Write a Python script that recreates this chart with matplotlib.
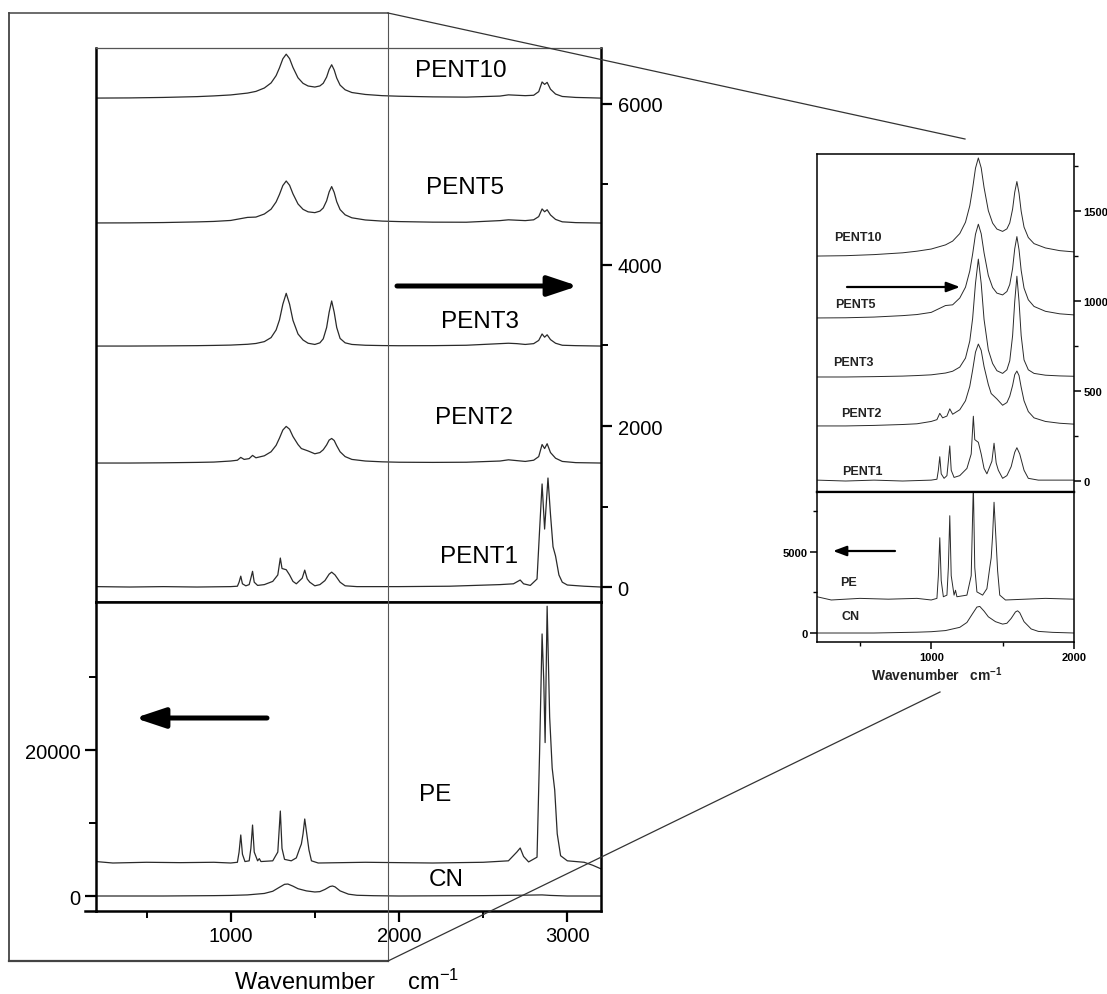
import matplotlib.pyplot as plt

plt.rcParams['font.family'] = ['Liberation Sans', 'DejaVu Sans']
plt.rcParams['mathtext.default'] = 'regular'

W, H = 1107, 995

# spectra (wavenumber, intensity above the sample's own baseline)
wn_broad = [200, 400, 600, 800, 900, 1000, 1100, 1150, 1200, 1240, 1270, 1290, 1310, 1330, 1350, 1370,
            1400, 1430, 1460, 1500, 1530, 1550, 1570, 1585, 1600, 1615, 1630, 1650, 1680, 1720, 1800,
            1900, 2000, 2200, 2400, 2600, 2650, 2700, 2750, 2800, 2830, 2850, 2865, 2880, 2900, 2930,
            2970, 3050, 3200]
pent10_y = [0, 2, 8, 18, 27, 39, 62, 83, 125, 188, 279, 376, 488, 545, 490, 381, 252, 183, 150, 137,
            151, 184, 261, 355, 414, 349, 249, 161, 103, 69, 45, 30, 23, 15, 12, 25, 40, 35, 30, 35,
            80, 200, 170, 195, 110, 50, 20, 8, 0]
pent5_y = [1, 2, 6, 14, 20, 32, 70, 74, 112, 172, 262, 356, 466, 522, 469, 363, 237, 170, 139, 129,
           148, 187, 276, 386, 453, 380, 265, 167, 102, 65, 38, 24, 18, 11, 10, 30, 40, 35, 30, 40,
           80, 175, 140, 165, 100, 45, 15, 5, 0]
pent3_y = [0, 0, 2, 5, 8, 12, 22, 32, 55, 105, 200, 325, 520, 655, 520, 320, 150, 75, 35, 20,
           40, 90, 230, 420, 560, 420, 230, 95, 40, 20, 10, 6, 4, 5, 10, 30, 35, 30, 20, 30,
           70, 150, 110, 140, 80, 35, 10, 5, 0]

pent2_x = [200, 400, 600, 800, 900, 1000, 1040, 1060, 1080, 1110, 1130, 1150, 1200, 1240, 1270, 1290,
           1310, 1330, 1350, 1370, 1400, 1420, 1440, 1460, 1500, 1530, 1550, 1570, 1585, 1600, 1615,
           1630, 1650, 1680, 1720, 1800, 1900, 2000, 2200, 2400, 2600, 2650, 2700, 2750, 2800, 2830,
           2850, 2865, 2880, 2900, 2930, 2970, 3050, 3200]
pent2_y = [0, 0, 3, 8, 12, 25, 35, 70, 45, 55, 95, 65, 90, 140, 220, 310,
           410, 455, 420, 330, 230, 180, 165, 150, 115, 130, 165, 225, 285, 305, 280,
           215, 140, 80, 45, 25, 15, 10, 8, 10, 25, 40, 30, 20, 35, 80,
           230, 180, 240, 130, 60, 20, 5, 0]

pent1_x = [200, 400, 600, 800, 1000, 1040, 1050, 1060, 1070, 1090, 1110, 1120, 1130, 1140, 1160, 1200,
           1250, 1280, 1295, 1305, 1330, 1350, 1370, 1390, 1410, 1425, 1440, 1455, 1470, 1500, 1530,
           1560, 1585, 1600, 1620, 1650, 1680, 1750, 2000, 2300, 2600, 2680, 2720, 2740, 2780, 2820,
           2835, 2850, 2865, 2885, 2900, 2915, 2930, 2950, 2970, 3000, 3100, 3200]
pent1_y = [5, 0, 5, 0, 5, 10, 60, 135, 40, 15, 30, 110, 195, 60, 20, 30,
           70, 150, 360, 230, 215, 150, 70, 40, 80, 110, 210, 100, 60, 15, 30,
           80, 160, 185, 150, 60, 15, 5, 5, 10, 30, 40, 87, 40, 20, 100,
           700, 1280, 720, 1354, 900, 500, 385, 150, 60, 25, 10, 0]

pe_x = [200, 300, 500, 700, 900, 1000, 1040, 1050, 1060, 1070, 1085, 1110, 1120, 1130, 1140, 1160,
        1170, 1180, 1250, 1280, 1295, 1305, 1320, 1360, 1390, 1410, 1420, 1430, 1440, 1455, 1465,
        1480, 1520, 1800, 2200, 2500, 2650, 2700, 2720, 2740, 2770, 2820, 2835, 2850, 2860, 2868,
        2880, 2895, 2910, 2925, 2940, 2960, 3000, 3100, 3150, 3200]
pe_y = [200, 0, 100, 50, 100, 0, 100, 1500, 3840, 1200, 200, 300, 2000, 5200, 1500, 300,
        600, 200, 300, 1500, 7120, 2000, 500, 300, 700, 2000, 2600, 4000, 6030, 3500, 1800,
        300, 0, 100, 0, 100, 300, 1500, 2055, 900, 150, 800, 15000, 31380, 25000, 16500,
        35180, 20000, 13000, 10000, 4000, 1000, 300, 100, -300, -800]

cn_x = [200, 600, 900, 1000, 1100, 1200, 1250, 1290, 1320, 1340, 1370, 1400, 1450, 1500, 1530,
        1560, 1590, 1605, 1620, 1650, 1700, 1750, 1850, 2000, 2500, 2700, 2850, 2900, 3000, 3200]
cn_y = [0, 0, 50, 80, 150, 350, 650, 1200, 1600, 1640, 1350, 1000, 700, 550, 600,
        900, 1300, 1370, 1250, 700, 250, 100, 40, 0, 50, 100, 150, 80, 0, 0]

top_names = ['PENT10', 'PENT5', 'PENT3', 'PENT2', 'PENT1']
top_x = [wn_broad, wn_broad, wn_broad, pent2_x, pent1_x]
top_y = [pent10_y, pent5_y, pent3_y, pent2_y, pent1_y]
main_offsets = [6073, 4521, 2993, 1540, 0]
inset_offsets = [1250, 905, 578, 306, 0]
bot_names = ['PE', 'CN']
bot_x = [pe_x, cn_x]
bot_y = [pe_y, cn_y]
main_bot_offsets = [4520, 0]
inset_bot_offsets = [2037, 0]

# label positions (data coords)
main_lab_x = [2365, 2395, 2484, 2448, 2478]
main_lab_y = [6421, 4968, 3304, 2111, 385]
main_bot_lab_x = [2217, 2282]
main_bot_lab_y = [13970, 2330]
inset_lab_x = [483, 469, 455, 510, 517]
inset_lab_y = [1356, 983, 661, 378, 56]
inset_bot_lab_x = [420, 434]
inset_bot_lab_y = [3147, 1049]

line_col = '#2a2a2a'

fig = plt.figure(figsize=(W / 100, H / 100), dpi=100)


def box(x0, y0, x1, y1):
    return fig.add_axes([x0 / W, 1 - y1 / H, (x1 - x0) / W, (y1 - y0) / H])


ax1 = box(96, 49, 601, 603)
ax2 = box(96, 603, 601, 912)
ax3 = box(817, 155, 1074, 493)
ax4 = box(817, 493, 1074, 643)

# ---- main plot, top panel
for xs, ys, off in zip(top_x, top_y, main_offsets):
    ax1.plot(xs, [v + off for v in ys], color=line_col, lw=0.9)
for name, tx, ty in zip(top_names, main_lab_x, main_lab_y):
    ax1.text(tx, ty, name, ha='center', va='center', fontsize=17.5)
ax1.set_xlim(200, 3200)
ax1.set_ylim(-186, 6695)
ax1.yaxis.tick_right()
ax1.set_yticks([0, 2000, 4000, 6000])
ax1.set_yticks([1000, 3000, 5000], minor=True)
ax1.tick_params(axis='y', which='major', direction='out', length=8, width=1.6, labelsize=14.5, pad=4)
ax1.tick_params(axis='y', which='minor', direction='out', length=5, width=1.4)
ax1.tick_params(axis='x', which='both', bottom=False, labelbottom=False)

# ---- main plot, bottom panel
for xs, ys, off in zip(bot_x, bot_y, main_bot_offsets):
    ax2.plot(xs, [v + off for v in ys], color=line_col, lw=0.9)
for name, tx, ty in zip(bot_names, main_bot_lab_x, main_bot_lab_y):
    ax2.text(tx, ty, name, ha='center', va='center', fontsize=17.5)
ax2.set_xlim(200, 3200)
ax2.set_ylim(-2055, 40280)
ax2.set_yticks([0, 20000])
ax2.set_yticks([10000, 30000], minor=True)
ax2.set_xticks([1000, 2000, 3000])
ax2.set_xticks([500, 1500, 2500], minor=True)
ax2.tick_params(which='major', direction='out', length=8, width=1.6, labelsize=14.5, pad=3)
ax2.tick_params(which='minor', direction='out', length=5, width=1.4)

for ax in (ax1, ax2):
    for s in ax.spines.values():
        s.set_linewidth(1.8)
ax1.spines['top'].set_linewidth(0.9)
ax1.spines['top'].set_color('#555555')

fig.text(347 / W, 1 - 982 / H, 'Wavenumber     cm$^{-1}$', ha='center', va='center', fontsize=17)

# ---- inset, top panel
for xs, ys, off in zip(top_x, top_y, inset_offsets):
    ax3.plot(xs, [v + off for v in ys], color=line_col, lw=0.7)
for name, tx, ty in zip(top_names, inset_lab_x, inset_lab_y):
    ax3.text(tx, ty, name, ha='center', va='center', fontsize=9, fontweight='bold', color='#222222')
ax3.set_xlim(200, 2000)
ax3.set_ylim(-61, 1817)
ax3.yaxis.tick_right()
ax3.set_yticks([0, 500, 1000, 1500])
ax3.set_yticks([250, 750, 1250, 1750], minor=True)
ax3.tick_params(axis='y', which='major', direction='out', length=5, width=1.1, labelsize=8, pad=2)
ax3.tick_params(axis='y', which='minor', direction='out', length=3, width=1.0)
ax3.tick_params(axis='x', which='both', bottom=False, labelbottom=False)

# ---- inset, bottom panel
for xs, ys, off in zip(bot_x, bot_y, inset_bot_offsets):
    ax4.plot(xs, [v + off for v in ys], color=line_col, lw=0.7)
for name, tx, ty in zip(bot_names, inset_bot_lab_x, inset_bot_lab_y):
    ax4.text(tx, ty, name, ha='center', va='center', fontsize=9, fontweight='bold', color='#222222')
ax4.set_xlim(200, 2000)
ax4.set_ylim(-555, 8700)
ax4.set_yticks([0, 5000])
ax4.set_yticks([2500, 7500], minor=True)
ax4.set_xticks([1000, 2000])
ax4.set_xticks([500, 1500], minor=True)
ax4.tick_params(which='major', direction='out', length=5, width=1.1, labelsize=8, pad=2)
ax4.tick_params(which='minor', direction='out', length=3, width=1.0)

for ax in (ax3, ax4):
    for s in ax.spines.values():
        s.set_linewidth(1.1)
    for lab in ax.get_xticklabels() + ax.get_yticklabels():
        lab.set_fontweight('bold')
ax3.spines['bottom'].set_linewidth(1.6)
ax4.spines['top'].set_linewidth(1.6)

fig.text(937 / W, 1 - 675 / H, 'Wavenumber   cm$^{-1}$', ha='center', va='center',
         fontsize=10, fontweight='bold', color='#222222')

# ---- overlay: frame, zoom lines and arrows (pixel coords)
ov = fig.add_axes([0, 0, 1, 1], zorder=5)
ov.set_xlim(0, W)
ov.set_ylim(H, 0)
ov.axis('off')
ov.patch.set_alpha(0)
fc = '#444444'
ov.plot([9, 388], [14, 14], color=fc, lw=1.1)
ov.plot([9, 9], [14, 962], color=fc, lw=1.3)
ov.plot([9, 388], [962, 962], color=fc, lw=1.6)
ov.plot([388, 388], [14, 962], color='#555555', lw=0.8)
ov.plot([388, 965], [14, 140], color='#333333', lw=0.9)
ov.plot([388, 940], [962, 693], color='#333333', lw=0.9)
ov.plot([85, 96], [912, 912], color='black', lw=1.8)

big = dict(arrowstyle='-|>,head_length=0.9,head_width=0.3', mutation_scale=20, lw=3.6,
           color='black', shrinkA=0, shrinkB=0)
small = dict(arrowstyle='-|>,head_length=0.8,head_width=0.3', mutation_scale=10, lw=1.6,
             color='black', shrinkA=0, shrinkB=0)
ov.annotate('', xy=(578, 287), xytext=(397, 287), arrowprops=big)
ov.annotate('', xy=(135, 719), xytext=(267, 719), arrowprops=big)
ov.annotate('', xy=(960, 288), xytext=(847, 288), arrowprops=small)
ov.annotate('', xy=(833, 552), xytext=(895, 552), arrowprops=small)

fig.savefig('out.png', dpi=100)
